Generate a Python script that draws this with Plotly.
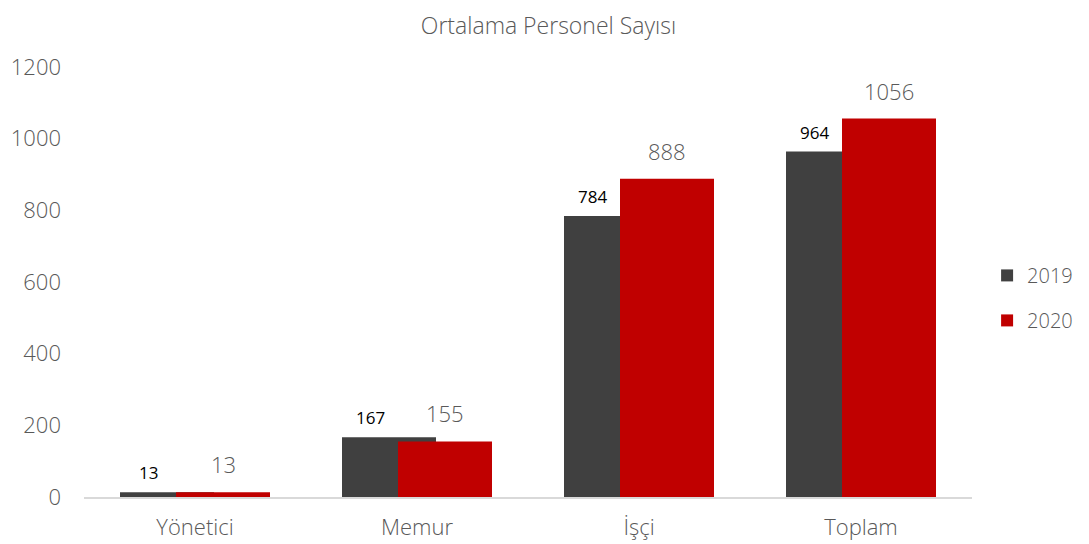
import plotly.graph_objects as go

categories = ["Yönetici", "Memur", "İşçi", "Toplam"]
values_2019 = [13, 167, 784, 964]
values_2020 = [13, 155, 888, 1056]
series_names = ["2019", "2020"]
y_ticks = [0, 200, 400, 600, 800, 1000, 1200]

FONT = "'Open Sans', Lato, sans-serif"
GRAY = "#595959"
DARK = "#404040"
RED = "#C00000"

bar_w = 94 / 222
off_2019 = -75 / 222
off_2020 = -19 / 222

fig = go.Figure()
fig.add_trace(go.Bar(
    x=categories, y=values_2019, name=series_names[0],
    marker=dict(color=DARK, line=dict(width=0)),
    width=[bar_w] * 4, offset=[off_2019] * 4, legendgroup="a",
))
fig.add_trace(go.Bar(
    x=categories, y=values_2020, name=series_names[1],
    marker=dict(color=RED, line=dict(width=0)),
    width=[bar_w] * 4, offset=[off_2020] * 4, legendgroup="b",
))

# data labels
for c, v in zip(categories, values_2019):
    fig.add_annotation(x=c, y=v, xref="x", yref="y", text=str(v), showarrow=False,
                       xshift=-47, yanchor="bottom", yshift=6,
                       font=dict(family=FONT, size=17, color="#000000", weight=400))
for c, v in zip(categories, values_2020):
    fig.add_annotation(x=c, y=v, xref="x", yref="y", text=str(v), showarrow=False,
                       xshift=28, yanchor="bottom", yshift=11,
                       font=dict(family=FONT, size=22, color=GRAY, weight=300))

fig.update_layout(
    width=1081, height=536,
    barmode="overlay",
    paper_bgcolor="white", plot_bgcolor="white",
    margin=dict(l=76, r=117, t=59, b=47, autoexpand=False),
    title=dict(text="Ortalama Personel Sayısı", x=0.5, xanchor="center",
               y=0.982, yanchor="top", pad=dict(t=0, b=0),
               font=dict(family=FONT, size=23, color=GRAY, weight=300)),
    font=dict(family=FONT, size=20, color=GRAY, weight=300),
    showlegend=True,
    legend=dict(x=1.017, xanchor="left", y=0.463, yanchor="middle",
                font=dict(family=FONT, size=20, color=GRAY, weight=300),
                tracegroupgap=16, traceorder="grouped",
                bgcolor="rgba(0,0,0,0)"),
    xaxis=dict(showgrid=False, showline=True, linecolor="#d9d9d9", linewidth=1.5,
               ticks="", ticklabelstandoff=10,
               tickfont=dict(family=FONT, size=22, color=GRAY, weight=300),
               range=[-0.5, 3.5], fixedrange=True),
    yaxis=dict(range=[0, 1200], tickvals=y_ticks, showgrid=False, zeroline=False,
               showline=False, ticks="", ticklabelstandoff=22,
               tickfont=dict(family=FONT, size=22, color=GRAY, weight=300)),
)

fig.write_html("out.html")
